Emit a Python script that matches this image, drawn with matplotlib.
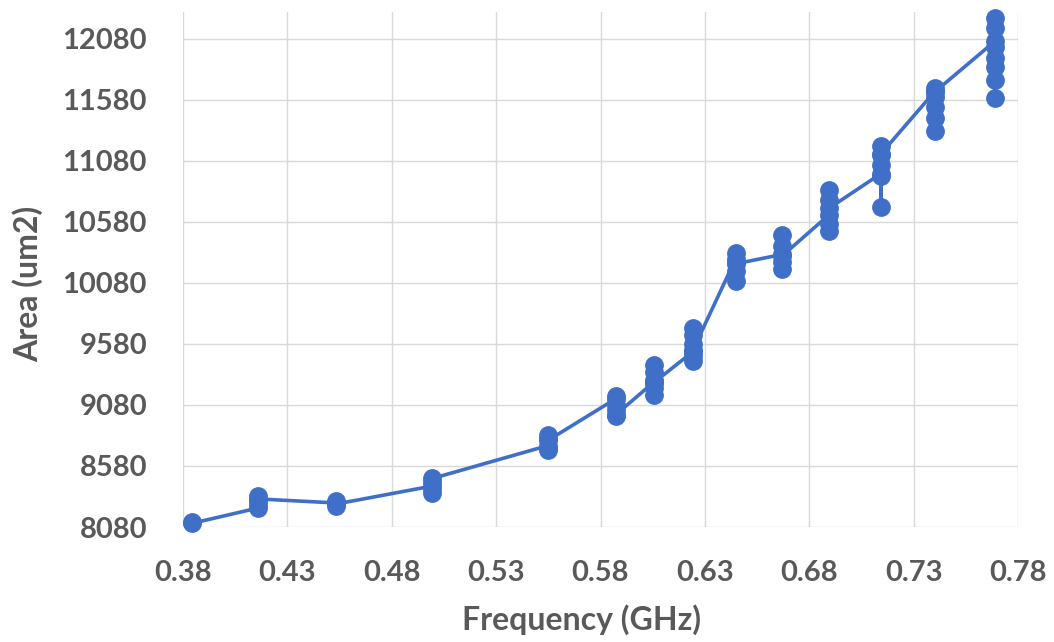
import matplotlib
matplotlib.use("Agg")
import matplotlib.pyplot as plt
import numpy as np

# Measured samples: frequency (GHz) and layout area (um2), in plotting order
freq_ghz = (
    [0.3843] * 2
    + [0.416] * 5
    + [0.4533] * 4
    + [0.4995] * 5
    + [0.5548] * 6
    + [0.5874] * 6
    + [0.6056] * 7
    + [0.6243] * 7
    + [0.6448] * 6
    + [0.6669] * 6
    + [0.6894] * 6
    + [0.7143] * 7
    + [0.7402] * 7
    + [0.7689] * 8
)

area_um2 = [
    8125, 8110,
    8236, 8260, 8290, 8330, 8310,
    8277, 8248, 8297, 8268,
    8416, 8355, 8390, 8450, 8478,
    8747, 8707, 8730, 8800, 8830, 8789,
    9132, 9150, 9080, 9040, 8986, 9001,
    9268, 9158, 9219, 9285, 9351, 9404, 9264,
    9517, 9437, 9480, 9580, 9650, 9707, 9531,
    10280, 10322, 10250, 10180, 10092, 10237,
    10313, 10191, 10250, 10380, 10469, 10300,
    10637, 10502, 10560, 10760, 10838, 10691,
    10975, 10703, 10953, 11050, 11129, 11199, 11137,
    11650, 11322, 11433, 11523, 11605, 11674, 11646,
    12060, 11597, 11744, 11851, 11924, 12015, 12170, 12248,
]

x_ticks = [0.38, 0.43, 0.48, 0.53, 0.58, 0.63, 0.68, 0.73, 0.78]
y_ticks = [8080, 8580, 9080, 9580, 10080, 10580, 11080, 11580, 12080]

blue = "#3F6FC6"
grey_text = "#595959"
grid_col = "#D9D9D9"

plt.rcParams["font.family"] = ["Lato", "DejaVu Sans"]

fig = plt.figure(figsize=(10.54, 6.42), dpi=100)
ax = fig.add_axes([183 / 1054, 1 - 527 / 642, (1018 - 183) / 1054, (527 - 12) / 642])

ax.plot(freq_ghz, area_um2, color=blue, lw=2.6, marker="o", markersize=12.5,
        markerfacecolor=blue, markeredgecolor=blue, zorder=3, clip_on=False)

ax.set_xlim(0.38, 0.78)
ax.set_ylim(8080, 12300)
ax.set_xticks(x_ticks)
ax.set_xticklabels([f"{v:.2f}" for v in x_ticks])
ax.set_yticks(y_ticks)
ax.set_yticklabels([str(v) for v in y_ticks])

ax.grid(True, color=grid_col, lw=1.0)
ax.set_axisbelow(True)
for s in ax.spines.values():
    s.set_visible(False)

ax.tick_params(axis="both", length=0, labelsize=21, labelcolor=grey_text)
ax.tick_params(axis="x", pad=24)
ax.tick_params(axis="y", pad=26)
for lab in ax.get_xticklabels() + ax.get_yticklabels():
    lab.set_fontweight("bold")

ax.set_xlabel("Frequency (GHz)", fontsize=23, fontweight="bold", color=grey_text)
ax.set_ylabel("Area (um2)", fontsize=23, fontweight="bold", color=grey_text)
ax.xaxis.label.set_va("center")
ax.yaxis.label.set_va("center")
ax.xaxis.set_label_coords((581 - 183) / 835, (527 - 620) / 515)
ax.yaxis.set_label_coords((28 - 183) / 835, (527 - 284) / 515)

fig.savefig("out.png", dpi=100, facecolor="white")
